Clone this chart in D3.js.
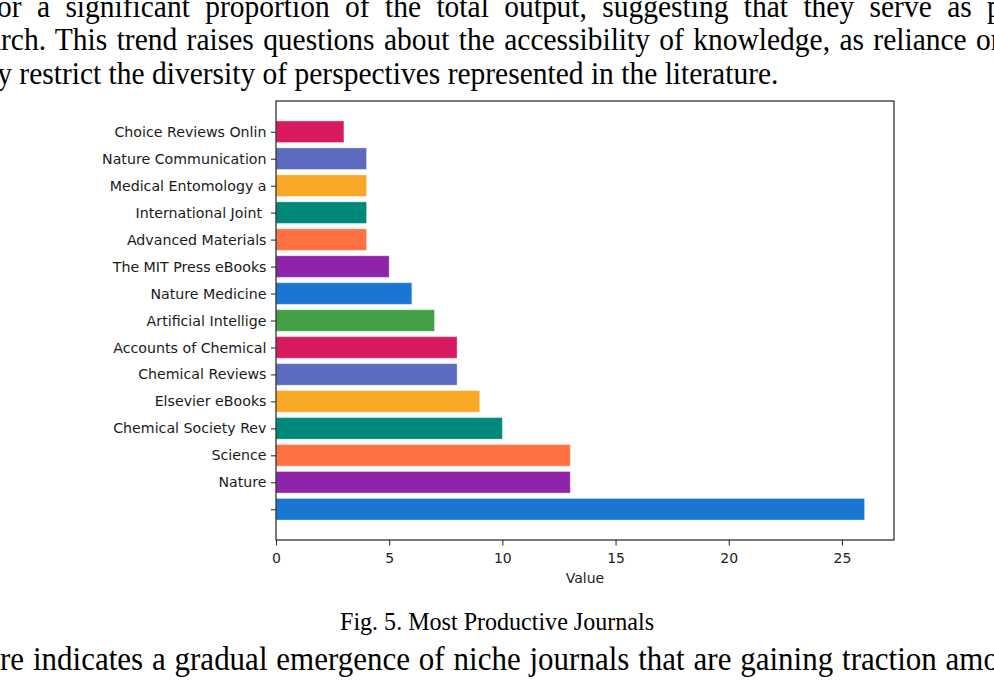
<!DOCTYPE html>
<html>
<head>
<meta charset="utf-8">
<script src="https://cdn.jsdelivr.net/npm/d3@7"></script>
<style>
  body { margin: 0; background: #fff; }
  svg { display: block; }
</style>
</head>
<body>
<div id="page"></div>
<script>
// Data (bottom bar first)
const journals = ["", "Nature", "Science", "Chemical Society Rev", "Elsevier eBooks", "Chemical Reviews",
    "Accounts of Chemical", "Artificial Intellige", "Nature Medicine", "The MIT Press eBooks",
    "Advanced Materials", "International Joint ", "Medical Entomology a", "Nature Communication",
    "Choice Reviews Onlin"];
const counts = [26, 13, 13, 10, 9, 8, 8, 7, 6, 5, 4, 4, 4, 4, 3];
const palette = ["#1976d2", "#8e24aa", "#ff7043", "#00897b", "#f9a825", "#5c6bc0", "#d81b60", "#43a047"];
const xTicks = [0, 5, 10, 15, 20, 25];
const xLabel = "Value";
const caption = "Fig. 5. Most Productive Journals";

// Surrounding paper text (lines are cut at the page edges)
const topLines = [
    { prefix: "f", visible: "or a significant proportion of the total output, suggesting that they serve as", tail: " primary" },
    { prefix: "resea", visible: "rch. This trend raises questions about the accessibility of knowledge, as reliance", tail: " on" },
    { prefix: "may ", visible: "restrict the diversity of perspectives represented in the literature.", tail: "" }
];
const bottomLines = [
    { prefix: "structu", visible: "re indicates a gradual emergence of niche journals that are gaining traction", tail: " among" },
    { prefix: "", visible: "researchers, reflecting an expansion of research interests across the domain. This diversification is", tail: "" }
];

const W = 994, H = 687;
const svg = d3.select("#page").append("svg").attr("width", W).attr("height", H);

const serif = "'Liberation Serif', 'Times New Roman', serif";
const sans = "'DejaVu Sans', sans-serif";
const stretch = 1.1; // the scanned text looks a little taller than Liberation Serif

// Write one line of text; when x1 is given the visible part is justified to x0..x1
function writeLine(line, y, x0, x1, size) {
    const probe = svg.append("text").attr("font-family", serif).attr("font-size", size);
    probe.text(line.visible);
    const natural = probe.node().getComputedTextLength();
    probe.text(line.prefix);
    const pw = line.prefix ? probe.node().getComputedTextLength() : 0;
    probe.remove();
    const gaps = line.visible.split(" ").length - 1;
    const ws = x1 != null && gaps > 0 ? (x1 - x0 - natural) / gaps : 0;
    svg.append("text")
        .attr("transform", `translate(0,${y}) scale(1,${stretch})`)
        .attr("x", x0 - pw)
        .attr("y", 0)
        .attr("font-family", serif)
        .attr("font-size", size)
        .attr("fill", "#000")
        .style("word-spacing", ws + "px")
        .text(line.prefix + line.visible + line.tail);
}

writeLine(topLines[0], 17, -3, 972, 29.5);
writeLine(topLines[1], 50, 1, 967, 29.5);
writeLine(topLines[2], 84, 12, null, 29.5);

svg.append("text")
    .attr("transform", `translate(497,630) scale(1,${stretch})`)
    .attr("text-anchor", "middle")
    .attr("font-family", serif)
    .attr("font-size", 22)
    .attr("textLength", 314)
    .attr("lengthAdjust", "spacingAndGlyphs")
    .text(caption);

writeLine(bottomLines[0], 670, 0, 937, 31);
writeLine(bottomLines[1], 711, 0, null, 31);

// Chart area
const plot = { left: 276, right: 894, top: 101, bottom: 540 };

const x = d3.scaleLinear().domain([0, 26 * 1.05]).range([plot.left, plot.right]);
const y = d3.scaleLinear().domain([-1.14, journals.length - 1 + 1.14]).range([plot.bottom, plot.top]);
const barH = (y(0) - y(0.8));

const chart = svg.append("g");

chart.selectAll("rect.bar")
    .data(counts)
    .enter()
    .append("rect")
    .attr("class", "bar")
    .attr("x", x(0))
    .attr("y", (d, i) => y(i + 0.4))
    .attr("width", d => x(d) - x(0))
    .attr("height", barH)
    .attr("fill", (d, i) => palette[i % palette.length])
    .attr("stroke", "#fff")
    .attr("stroke-opacity", 0.35)
    .attr("stroke-width", 1);

// x axis
const xAxis = chart.append("g")
    .attr("transform", `translate(0,${plot.bottom})`)
    .call(d3.axisBottom(x).tickValues(xTicks).tickSize(5.5).tickPadding(8).tickFormat(d3.format("d")));
xAxis.select(".domain").remove();
xAxis.selectAll("line").attr("stroke", "#222").attr("stroke-width", 1);
xAxis.selectAll("text").attr("font-family", sans).attr("font-size", 14).attr("fill", "#222");

// y axis
const yAxis = chart.append("g")
    .attr("transform", `translate(${plot.left},0)`)
    .call(d3.axisLeft(y).tickValues(d3.range(journals.length)).tickSize(5).tickPadding(4.5)
        .tickFormat(i => journals[i]));
yAxis.select(".domain").remove();
yAxis.selectAll("line").attr("stroke", "#222").attr("stroke-width", 1);
yAxis.selectAll("text").attr("font-family", sans).attr("font-size", 14.2).attr("fill", "#1a1a1a")
    .style("white-space", "pre");

// frame
chart.append("rect")
    .attr("x", plot.left)
    .attr("y", plot.top)
    .attr("width", plot.right - plot.left)
    .attr("height", plot.bottom - plot.top)
    .attr("fill", "none")
    .attr("stroke", "#222")
    .attr("stroke-width", 1.2);

chart.append("text")
    .attr("x", (plot.left + plot.right) / 2)
    .attr("y", 583)
    .attr("text-anchor", "middle")
    .attr("font-family", sans)
    .attr("font-size", 14)
    .attr("fill", "#222")
    .text(xLabel);
</script>
</body>
</html>
